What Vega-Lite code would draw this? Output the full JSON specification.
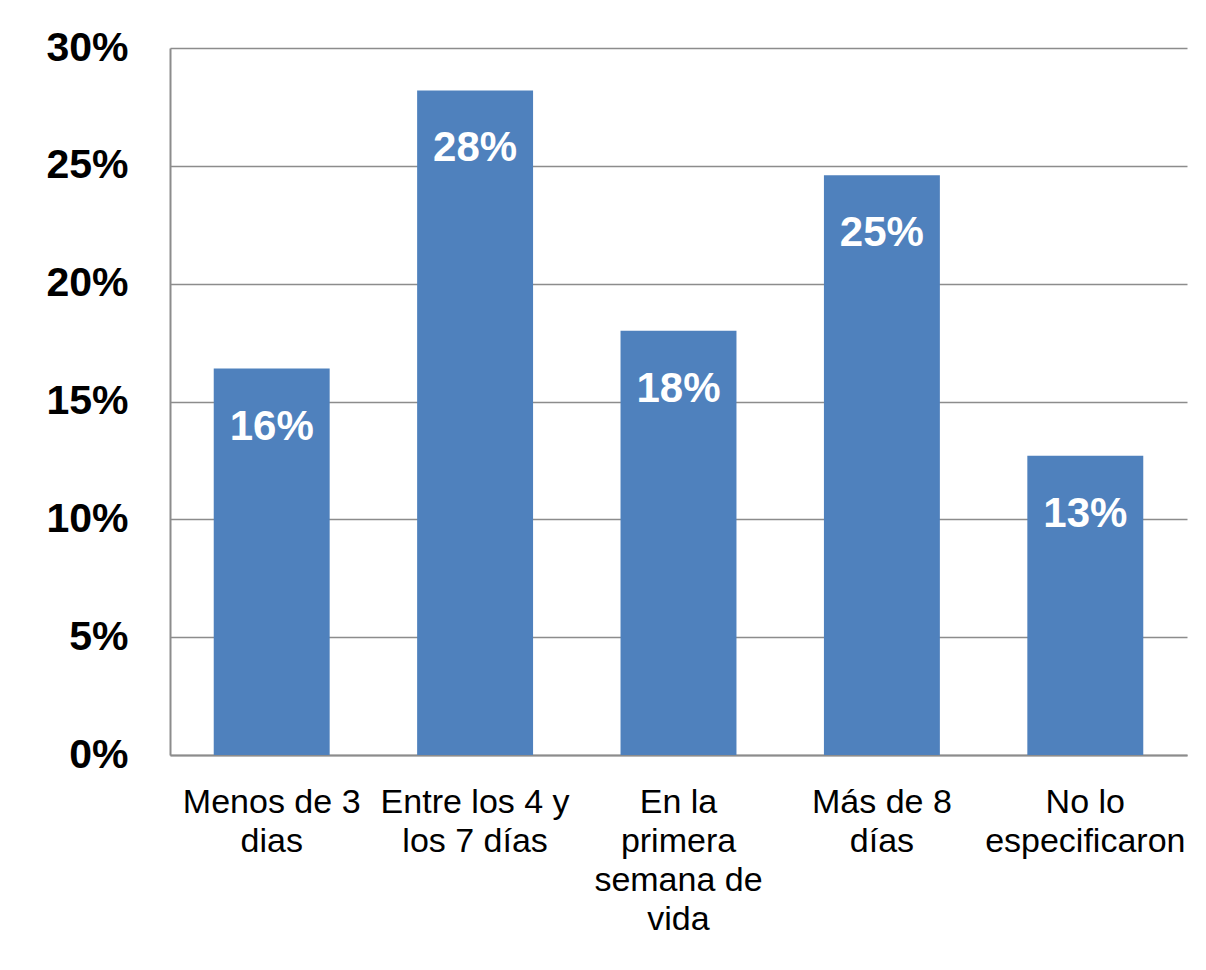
{
  "$schema": "https://vega.github.io/schema/vega-lite/v6.json",
  "width": 1017,
  "height": 707,
  "autosize": {"type": "none"},
  "padding": {"left": 170, "top": 48, "right": 19, "bottom": 215},
  "background": "white",
  "data": {
    "values": [
      {"cat": "Menos de 3\ndias", "value": 0.164, "label": "16%"},
      {"cat": "Entre los 4 y\nlos 7 días", "value": 0.282, "label": "28%"},
      {"cat": "En la\nprimera\nsemana de\nvida", "value": 0.180, "label": "18%"},
      {"cat": "Más de 8\ndías", "value": 0.246, "label": "25%"},
      {"cat": "No lo\nespecificaron", "value": 0.127, "label": "13%"}
    ]
  },
  "encoding": {
    "x": {
      "field": "cat",
      "type": "nominal",
      "sort": null,
      "title": null,
      "scale": {"paddingInner": 0.43, "paddingOuter": 0.215},
      "axis": {
        "labelAngle": 0,
        "labelExpr": "split(datum.value, '\\n')",
        "labelFont": "Liberation Sans",
        "labelFontSize": 34,
        "labelLineHeight": 39,
        "labelColor": "black",
        "labelPadding": 30,
        "labelBaseline": "top",
        "labelLimit": 0,
        "labelOverlap": false,
        "ticks": false,
        "domainColor": "#8c8c8c",
        "domainWidth": 2,
        "grid": false
      }
    },
    "y": {
      "field": "value",
      "type": "quantitative",
      "title": null,
      "scale": {"domain": [0, 0.3], "nice": false},
      "axis": {
        "values": [0, 0.05, 0.1, 0.15, 0.2, 0.25, 0.3],
        "format": ".0%",
        "labelFont": "Liberation Sans",
        "labelFontSize": 41,
        "labelFontWeight": "bold",
        "labelColor": "black",
        "labelPadding": 42,
        "ticks": false,
        "domainColor": "#8c8c8c",
        "domainWidth": 2,
        "gridColor": "#8c8c8c",
        "gridWidth": 1.5,
        "gridOpacity": 1
      }
    }
  },
  "layer": [
    {"mark": {"type": "bar", "color": "#4F81BD"}},
    {
      "mark": {
        "type": "text",
        "color": "white",
        "font": "Liberation Sans",
        "fontSize": 42,
        "fontWeight": "bold",
        "baseline": "middle",
        "dy": 58
      },
      "encoding": {"text": {"field": "label"}}
    }
  ],
  "config": {"view": {"stroke": null}}
}
